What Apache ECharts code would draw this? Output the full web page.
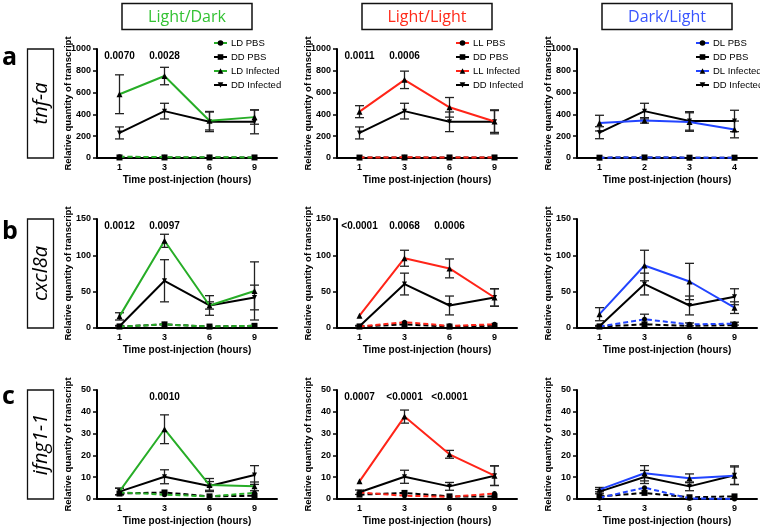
<!DOCTYPE html>
<html><head><meta charset="utf-8">
<script src="https://cdn.jsdelivr.net/npm/echarts@6/dist/echarts.min.js"></script>
<style>html,body{margin:0;padding:0;background:#fff}#c{width:760px;height:531px}</style>
</head><body><div id="c"></div>
<script>
// ---------- categories / tick labels ----------
const hours = ['1', '3', '6', '9'];
const hoursDL_tnf = ['1', '2', '3', '4'];
const yTicksA = [0, 1000, 200];
const yTicksB = [0, 150, 50];
const yTicksC = [0, 50, 10];
const conditions = ['Light/Dark', 'Light/Light', 'Dark/Light'];
const genes = ['tnf-a', 'cxcl8a', 'ifng1-1'];
const rowLetters = ['a', 'b', 'c'];
const legendLD = ['LD PBS', 'DD PBS', 'LD Infected', 'DD Infected'];
const legendLL = ['LL PBS', 'DD PBS', 'LL Infected', 'DD Infected'];
const legendDL = ['DL PBS', 'DD PBS', 'DL Infected', 'DD Infected'];

// ---------- row a: tnf-a ----------
const a1_LD_pbs = [12, 8, 8, 5];
const a1_DD_pbs = [5, 5, 5, 5];
const a1_LD_inf = [585, 752, 342, 375];
const a1_LD_inf_err = [178, 80, 85, 65];
const a1_DD_inf = [230, 430, 332, 332];
const a1_DD_inf_err = [55, 72, 90, 110];
const a1_pvals = ['0.0070', '0.0028', '', ''];

const a2_LL_pbs = [4, 6, 5, 5];
const a2_DD_pbs = [4, 5, 5, 5];
const a2_LL_inf = [425, 717, 465, 335];
const a2_LL_inf_err = [55, 80, 90, 100];
const a2_DD_inf = [230, 430, 332, 332];
const a2_DD_inf_err = [55, 72, 90, 110];
const a2_pvals = ['0.0011', '0.0006', '', ''];

const a3_DL_pbs = [3, 5, 3, 3];
const a3_DD_pbs = [3, 5, 3, 3];
const a3_DL_inf = [320, 345, 330, 262];
const a3_DL_inf_err = [72, 25, 85, 77];
const a3_DD_inf = [232, 430, 340, 340];
const a3_DD_inf_err = [55, 72, 85, 98];
const a3_pvals = ['', '', '', ''];

// ---------- row b: cxcl8a ----------
const b1_LD_pbs = [2, 5, 2, 3];
const b1_DD_pbs = [2, 5, 2, 3];
const b1_LD_inf = [16, 120, 31, 51];
const b1_LD_inf_err = [5, 9, 5, 40];
const b1_DD_inf = [2.5, 65, 31, 42];
const b1_DD_inf_err = [1, 29, 13.5, 17];
const b1_pvals = ['0.0012', '0.0097', '', ''];

const b2_LL_pbs = [2, 8, 3, 5];
const b2_DD_pbs = [2, 5, 2, 3];
const b2_LL_inf = [17, 96, 82, 42];
const b2_LL_inf_err = [0, 11, 13, 12];
const b2_DD_inf = [2.5, 60.5, 31, 42];
const b2_DD_inf_err = [1, 15, 13, 12];
const b2_pvals = ['<0.0001', '0.0068', '0.0006', ''];

const b3_DL_pbs = [2, 12, 5, 6];
const b3_DL_pbs_err = [1, 7, 2, 2];
const b3_DD_pbs = [2, 5, 3, 4];
const b3_DL_inf = [19, 86, 64, 28];
const b3_DL_inf_err = [9, 21, 25, 8];
const b3_DD_inf = [2.5, 60.5, 31, 43];
const b3_DD_inf_err = [1, 15, 13, 11];
const b3_pvals = ['', '', '', ''];

// ---------- row c: ifng1-1 ----------
const c1_LD_pbs = [3, 2, 1.2, 2.8];
const c1_DD_pbs = [2.5, 3, 1.2, 1.5];
const c1_LD_inf = [3.5, 32, 6.4, 5.8];
const c1_LD_inf_err = [1.5, 6.6, 3, 2];
const c1_DD_inf = [3.4, 10.2, 6, 11];
const c1_DD_inf_err = [1.5, 3.2, 2, 4.3];
const c1_pvals = ['', '0.0010', '', ''];

const c2_LL_pbs = [3, 1.5, 1, 2.5];
const c2_DD_pbs = [2, 2.8, 1.2, 1.2];
const c2_LL_inf = [8.1, 37.8, 20.5, 10.7];
const c2_LL_inf_err = [0, 3, 1.8, 4.5];
const c2_DD_inf = [3.1, 10.2, 5.8, 10.7];
const c2_DD_inf_err = [1, 3, 1.8, 4.5];
const c2_pvals = ['0.0007', '<0.0001', '<0.0001', ''];

const c3_DL_pbs = [0.5, 5.2, 0.3, 0];
const c3_DD_pbs = [1.2, 2.8, 0.8, 1.2];
const c3_DL_inf = [4.3, 11.8, 9.5, 10.7];
const c3_DL_inf_err = [1, 3.5, 2, 4];
const c3_DD_inf = [3.4, 10.1, 5.8, 10.9];
const c3_DD_inf_err = [1, 3, 2, 4.3];
const c3_pvals = ['', '', '', ''];

// ---------- styling / layout ----------
const GREEN = '#27ad27', RED = '#ff2418', BLUE = '#2244ff';
const TITLE_COLORS = ['#33c233', '#ff2a1a', '#3a55ff'];
const colLeft = [97, 337, 577];
const rowTop = [49, 219, 390];
const GW = 180, GH = 109;
const FONT = 'Liberation Sans';

const panels = [
  {r:0,c:0,cats:hours,yt:yTicksA,color:GREEN,names:legendLD,pbs:a1_LD_pbs,ddpbs:a1_DD_pbs,inf:a1_LD_inf,infErr:a1_LD_inf_err,dd:a1_DD_inf,ddErr:a1_DD_inf_err,pv:a1_pvals},
  {r:0,c:1,cats:hours,yt:yTicksA,color:RED,names:legendLL,pbs:a2_LL_pbs,ddpbs:a2_DD_pbs,inf:a2_LL_inf,infErr:a2_LL_inf_err,dd:a2_DD_inf,ddErr:a2_DD_inf_err,pv:a2_pvals},
  {r:0,c:2,cats:hoursDL_tnf,yt:yTicksA,color:BLUE,names:legendDL,pbs:a3_DL_pbs,ddpbs:a3_DD_pbs,inf:a3_DL_inf,infErr:a3_DL_inf_err,dd:a3_DD_inf,ddErr:a3_DD_inf_err,pv:a3_pvals},
  {r:1,c:0,cats:hours,yt:yTicksB,color:GREEN,names:legendLD,pbs:b1_LD_pbs,ddpbs:b1_DD_pbs,inf:b1_LD_inf,infErr:b1_LD_inf_err,dd:b1_DD_inf,ddErr:b1_DD_inf_err,pv:b1_pvals},
  {r:1,c:1,cats:hours,yt:yTicksB,color:RED,names:legendLL,pbs:b2_LL_pbs,ddpbs:b2_DD_pbs,inf:b2_LL_inf,infErr:b2_LL_inf_err,dd:b2_DD_inf,ddErr:b2_DD_inf_err,pv:b2_pvals},
  {r:1,c:2,cats:hours,yt:yTicksB,color:BLUE,names:legendDL,pbs:b3_DL_pbs,pbsErr:b3_DL_pbs_err,ddpbs:b3_DD_pbs,inf:b3_DL_inf,infErr:b3_DL_inf_err,dd:b3_DD_inf,ddErr:b3_DD_inf_err,pv:b3_pvals},
  {r:2,c:0,cats:hours,yt:yTicksC,color:GREEN,names:legendLD,pbs:c1_LD_pbs,ddpbs:c1_DD_pbs,inf:c1_LD_inf,infErr:c1_LD_inf_err,dd:c1_DD_inf,ddErr:c1_DD_inf_err,pv:c1_pvals},
  {r:2,c:1,cats:hours,yt:yTicksC,color:RED,names:legendLL,pbs:c2_LL_pbs,ddpbs:c2_DD_pbs,inf:c2_LL_inf,infErr:c2_LL_inf_err,dd:c2_DD_inf,ddErr:c2_DD_inf_err,pv:c2_pvals},
  {r:2,c:2,cats:hours,yt:yTicksC,color:BLUE,names:legendDL,pbs:c3_DL_pbs,ddpbs:c3_DD_pbs,inf:c3_DL_inf,infErr:c3_DL_inf_err,dd:c3_DD_inf,ddErr:c3_DD_inf_err,pv:c3_pvals}
];

const grid = [], xAxis = [], yAxis = [], series = [];
const boldText = {color:'#000', fontFamily:FONT, fontWeight:'bold'};

function errData(vals, errs) {
  const out = [];
  vals.forEach((v, i) => { if (errs && errs[i] > 0) out.push([i, v - errs[i], v + errs[i]]); });
  return out;
}
function errSeries(gi, vals, errs) {
  return {
    type:'custom', xAxisIndex:gi, yAxisIndex:gi, z:3, silent:true,
    data: errData(vals, errs),
    renderItem: function (params, api) {
      const lo = api.coord([api.value(0), api.value(1)]);
      const hi = api.coord([api.value(0), api.value(2)]);
      const w = 4.5;
      const st = {stroke:'#222', lineWidth:1.3};
      return {type:'group', children:[
        {type:'line', shape:{x1:lo[0], y1:lo[1], x2:hi[0], y2:hi[1]}, style:st},
        {type:'line', shape:{x1:lo[0]-w, y1:lo[1], x2:lo[0]+w, y2:lo[1]}, style:st},
        {type:'line', shape:{x1:hi[0]-w, y1:hi[1], x2:hi[0]+w, y2:hi[1]}, style:st}
      ]};
    }
  };
}

panels.forEach((p, gi) => {
  grid.push({left: colLeft[p.c], top: rowTop[p.r], width: GW, height: GH});
  xAxis.push({
    gridIndex: gi, type:'category', data: p.cats, boundaryGap: true,
    axisLine:{lineStyle:{color:'#000', width:2}},
    axisTick:{alignWithLabel:true, length:4, lineStyle:{color:'#000', width:1.5}},
    axisLabel:Object.assign({fontSize:9, margin:5}, boldText),
    name:'Time post-injection (hours)', nameLocation:'middle', nameGap:17,
    nameMoveOverlap:false,
    nameTextStyle:Object.assign({fontSize:10}, boldText)
  });
  yAxis.push({
    gridIndex: gi, type:'value', min:p.yt[0], max:p.yt[1], interval:p.yt[2],
    splitLine:{show:false},
    axisLine:{show:true, lineStyle:{color:'#000', width:2}},
    axisTick:{show:true, length:4, lineStyle:{color:'#000', width:1.5}},
    axisLabel:Object.assign({fontSize:9, margin:6, formatter: v => String(v)}, boldText),
    name:'Relative quantity of transcript', nameLocation:'middle', nameGap:24,
    nameMoveOverlap:false,
    nameTextStyle:Object.assign({fontSize:9.5}, boldText)
  });
  const base = {type:'line', xAxisIndex:gi, yAxisIndex:gi, silent:true, symbolSize:5, showSymbol:true};
  series.push(Object.assign({}, base, {name:p.names[1], data:p.ddpbs, symbol:'rect', symbolSize:6,
    itemStyle:{color:'#000'}, lineStyle:{color:'#000', width:2, type:[5,3]}, z:4}));
  series.push(Object.assign({}, base, {name:p.names[0], data:p.pbs, symbol:'circle', symbolSize:5,
    itemStyle:{color:'#000'}, lineStyle:{color:p.color, width:2, type:[5,3]}, z:5}));
  series.push(Object.assign({}, base, {name:p.names[3], data:p.dd, symbol:'triangle', symbolRotate:180, symbolSize:5,
    itemStyle:{color:'#000'}, lineStyle:{color:'#000', width:2}, z:6}));
  const mp = [];
  p.pv.forEach((t, i) => { if (t) mp.push({name:t, coord:[i, p.yt[1] * 0.935]}); });
  series.push(Object.assign({}, base, {name:p.names[2], data:p.inf, symbol:'triangle', symbolSize:6,
    itemStyle:{color:'#000'}, lineStyle:{color:p.color, width:2}, z:7,
    markPoint:{symbol:'rect', symbolSize:0, silent:true,
      label:Object.assign({show:true, formatter:'{b}', fontSize:10, position:'inside'}, boldText),
      data: mp}
  }));
  series.push(errSeries(gi, p.dd, p.ddErr));
  series.push(errSeries(gi, p.inf, p.infErr));
  if (p.pbsErr) series.push(errSeries(gi, p.pbs, p.pbsErr));
});

const legendLefts = [213, 455, 695];
const legendNames = [legendLD, legendLL, legendDL];
const legend = legendNames.map((names, i) => ({
  orient:'vertical', left:legendLefts[i], top:38, padding:0, itemWidth:13, itemHeight:7, itemGap:4,
  selectedMode:false,
  textStyle:{fontSize:9.5, fontFamily:FONT, color:'#000', padding:[0,0,0,-1]},
  data:names
}));

const graphic = [];
conditions.forEach((t, i) => {
  const cx = colLeft[i] + GW / 2;
  graphic.push({type:'rect', shape:{x:cx - 65, y:3.5, width:130, height:26},
    style:{fill:'#fff', stroke:'#111', lineWidth:1.5}});
  graphic.push({type:'text', x:cx, y:17, style:{text:t, fill:TITLE_COLORS[i], font:'16px "Open Sans"',
    textAlign:'center', textVerticalAlign:'middle'}});
});
genes.forEach((g, i) => {
  graphic.push({type:'rect', shape:{x:27.5, y:rowTop[i], width:26, height:GH},
    style:{fill:'#fff', stroke:'#111', lineWidth:1.3}});
  graphic.push({type:'text', x:41, y:rowTop[i] + GH / 2, rotation:Math.PI / 2,
    style:{text:g, fill:'#000', font:'italic 20px "Open Sans"', textAlign:'center', textVerticalAlign:'middle'}});
});
const letterBase = [70, 244, 409];
rowLetters.forEach((l, i) => {
  graphic.push({type:'text', x:2, y:letterBase[i], style:{text:l, fill:'#000', font:'bold 25px "Open Sans"',
    textAlign:'left', textVerticalAlign:'bottom'}});
});

const chart = echarts.init(document.getElementById('c'));
chart.setOption({animation:false, grid, xAxis, yAxis, series, legend, graphic});
</script></body></html>
